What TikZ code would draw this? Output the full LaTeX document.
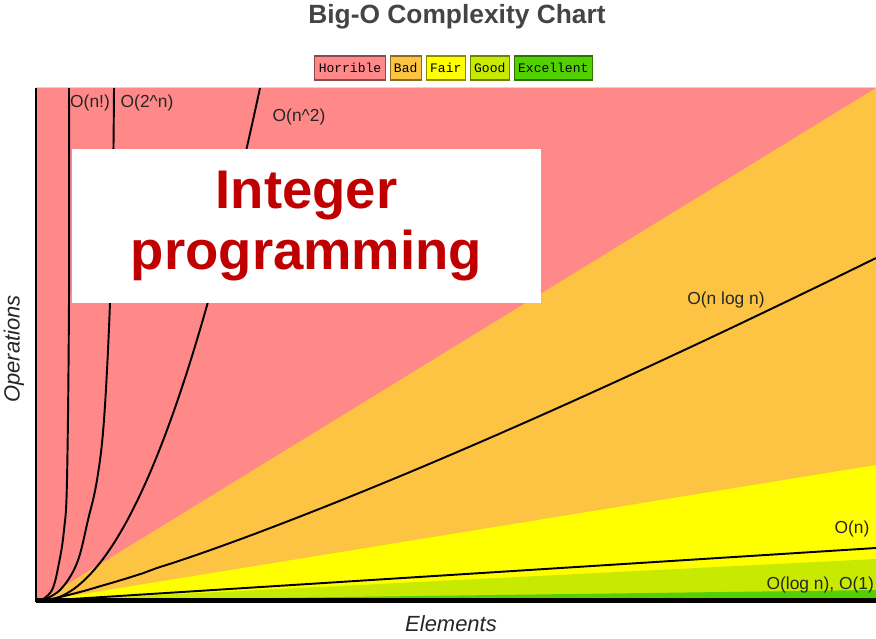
\documentclass[tikz,border=0pt]{standalone}
\usepackage{fontspec}
\setmainfont{Liberation Sans}
\setmonofont{Liberation Mono}
\usepackage{tikz}
\usetikzlibrary{calc,positioning}

\definecolor{horrible}{HTML}{FF8989}
\definecolor{bad}{HTML}{FDC443}
\definecolor{fair}{HTML}{FFFF00}
\definecolor{good}{HTML}{C8EA00}
\definecolor{excellent}{HTML}{53D000}
\definecolor{darktitle}{HTML}{444444}
\definecolor{bigred}{HTML}{C00000}

\begin{document}
\begin{tikzpicture}
		[x=0.02cm, y=-0.02cm, font=\normalsize,
		% STYLES
		% legend boxes above the chart
		legend/.style={rectangle, draw=#1!55!black, fill=#1, line width=0.6pt, inner xsep=2.2pt, inner ysep=0pt, minimum height=0.48cm, font=\fontsize{7.4}{8}\selectfont\ttfamily},
		% the complexity curves
		curve/.style={line width=1.1pt, black, line join=round},
		% labels next to the curves
		curveLabel/.style={inner sep=1pt, font=\fontsize{9.9}{11}\selectfont, text=black!85},
		% axis titles
		axisLabel/.style={inner sep=0pt, font=\fontsize{12.5}{14}\selectfont\itshape, text=black!85}]

		\useasboundingbox (0,0) rectangle (876,639);

		% Title and legend
		\node [font=\fontsize{15}{17}\selectfont\bfseries, text=darktitle] (title) at (457,17) {Big-O Complexity Chart};
		\node [legend=horrible] (lHorrible) at (350,68) {Horrible};
		\node [legend=bad, right=0.08cm of lHorrible] (lBad) {Bad};
		\node [legend=fair, right=0.08cm of lBad] (lFair) {Fair};
		\node [legend=good, right=0.08cm of lFair] (lGood) {Good};
		\node [legend=excellent, right=0.08cm of lGood] (lExcellent) {Excellent};

		% Regions of the chart
		\coordinate (O) at (40,601);
		\fill [horrible] (36,88) rectangle (876,602);
		\fill [bad] (O) -- (876,88) -- (876,602) -- cycle;
		\fill [fair] (O) -- (876,465) -- (876,602) -- cycle;
		\fill [good] (O) -- (876,559) -- (876,602) -- cycle;
		\fill [excellent] (O) -- (876,590) -- (876,602) -- cycle;
		\draw [black!15, line width=0.5pt] (36,87.5) -- (876,87.5);

		% Draw the curves
		\draw [curve] plot [smooth, tension=0.6] coordinates {(O) (52,590) (59,563) (64,530) (67,480) (69,300) (69,88)};
		\draw [curve] plot [smooth, tension=0.6] coordinates {(O) (60,590) (77,563) (88,520) (97,480) (104,420) (110,303) (113,180) (114,88)};
		\draw [curve] plot [domain=0:220, samples=60] ({40+\x},{601-513*(\x/220)^2});
		\draw [curve] (O) -- plot [domain=0.005:1, samples=60] ({40+836*\x},{601-343*\x^1.2});
		\draw [curve] (O) -- (876,548);

		% Axes
		\draw [black, line width=1.2pt] (36,88) -- (36,602);
		\draw [black, line width=2.4pt] (36,600.5) -- (876,600.5);

		%%%%%%%%%%%%%%%
		% Labels
		\node [curveLabel] (lbFact) at (90,103) {O(n!)};
		\node [curveLabel] (lbExp) at (147,103) {O(2\^{}n)};
		\node [curveLabel] (lbSq) at (299,117) {O(n\^{}2)};
		\node [curveLabel] (lbNlogn) at (726,300) {O(n log n)};
		\node [curveLabel] (lbN) at (852,529) {O(n)};
		\node [curveLabel, anchor=east] (lbLog) at (876,585) {O(log n), O(1)};
		\node [axisLabel, rotate=90] (yLabel) at (14,349) {Operations};
		\node [axisLabel] (xLabel) at (451,624) {Elements};

		% The overlay box
		\node [rectangle, fill=white, minimum width=9.38cm, minimum height=3.08cm, align=center, text=bigred,
			font=\fontsize{31}{35}\selectfont\bfseries] (intprog) at (306.5,226) {Integer\\programming};
\end{tikzpicture}
\end{document}
